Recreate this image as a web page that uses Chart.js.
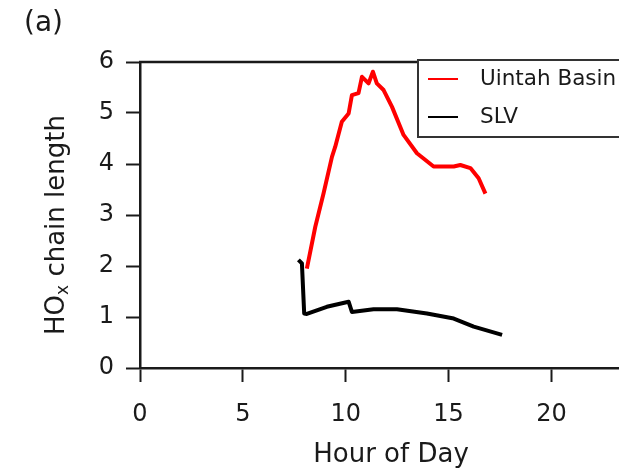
<!DOCTYPE html>
<html>
<head>
<meta charset="utf-8">
<script src="https://cdn.jsdelivr.net/npm/chart.js@4.4.1/dist/chart.umd.min.js"></script>
<style>
  html, body { margin: 0; padding: 0; background: #fff; overflow: hidden; }
  #wrap { width: 619px; height: 471px; position: relative; overflow: hidden; }
</style>
</head>
<body>
<div id="wrap"><canvas id="chart" width="642" height="471"></canvas></div>
<script>
// values (hour of day, HOx chain length)
const uintahHours = [8.11, 8.52, 8.92, 9.33, 9.49, 9.81, 10.14, 10.30, 10.62, 10.79, 11.11, 11.32, 11.51, 11.84, 12.25, 12.81, 13.46, 14.27, 15.25, 15.57, 16.06, 16.46, 16.79];
const uintahChain = [1.95, 2.77, 3.42, 4.14, 4.34, 4.83, 4.99, 5.35, 5.39, 5.71, 5.58, 5.81, 5.58, 5.45, 5.12, 4.57, 4.21, 3.95, 3.95, 3.98, 3.92, 3.72, 3.42];
const slvHours = [7.70, 7.87, 7.98, 8.11, 9.08, 10.14, 10.30, 11.35, 12.49, 13.95, 15.25, 16.22, 17.60];
const slvChain = [2.12, 2.05, 1.07, 1.06, 1.20, 1.30, 1.10, 1.15, 1.15, 1.07, 0.97, 0.81, 0.65];
const xTicks = [0, 5, 10, 15, 20];
const yTicks = [0, 1, 2, 3, 4, 5, 6];

const FONT = "'DejaVu Sans', Verdana, sans-serif";
const INK = '#1a1a1a';

function toPoints(xs, ys) {
  return xs.map((x, i) => ({ x: x, y: ys[i] }));
}

// top spine, panel label, y title with subscript and the boxed legend
const decor = {
  id: 'decor',
  afterDraw(chart) {
    const c = chart.ctx;
    const a = chart.chartArea;
    c.save();
    c.strokeStyle = INK;
    c.lineWidth = 2.5;
    c.beginPath();
    c.moveTo(a.left - 1, a.top);
    c.lineTo(a.right, a.top);
    c.stroke();

    c.fillStyle = INK;
    c.font = '28px ' + FONT;
    c.textBaseline = 'middle';
    c.textAlign = 'left';
    c.fillText('(a)', 24, 24);

    // y axis title: HO + subscript x + rest
    c.save();
    c.translate(54, 225);
    c.rotate(-Math.PI / 2);
    c.textBaseline = 'alphabetic';
    const big = '26px ' + FONT, small = '17px ' + FONT;
    c.font = big;
    const w1 = c.measureText('HO').width;
    const w3 = c.measureText(' chain length').width;
    c.font = small;
    const w2 = c.measureText('x').width;
    let x0 = -(w1 + w2 + w3) / 2;
    c.font = big;
    c.fillText('HO', x0, 10);
    c.font = small;
    c.fillText('x', x0 + w1, 14);
    c.font = big;
    c.fillText(' chain length', x0 + w1 + w2, 10);
    c.restore();

    // legend
    const bx = 418, by = 60, bw = 214, bh = 77;
    c.fillStyle = '#fff';
    c.fillRect(bx, by, bw, bh);
    c.strokeStyle = '#333';
    c.lineWidth = 2;
    c.strokeRect(bx, by, bw, bh);
    c.font = '21.5px ' + FONT;
    chart.data.datasets.forEach((ds, i) => {
      const y = by + 19 + i * 38;
      c.strokeStyle = ds.borderColor;
      c.lineWidth = 2;
      c.beginPath();
      c.moveTo(bx + 10, y);
      c.lineTo(bx + 40, y);
      c.stroke();
      c.fillStyle = INK;
      c.fillText(ds.label, bx + 62, y);
    });
    c.restore();
  }
};

new Chart(document.getElementById('chart'), {
  type: 'scatter',
  data: {
    datasets: [
      {
        label: 'Uintah Basin',
        data: toPoints(uintahHours, uintahChain),
        borderColor: '#ff0000',
        borderWidth: 4,
        borderJoinStyle: 'round',
        showLine: true,
        pointRadius: 0,
        tension: 0
      },
      {
        label: 'SLV',
        data: toPoints(slvHours, slvChain),
        borderColor: '#000000',
        borderWidth: 4,
        borderJoinStyle: 'round',
        showLine: true,
        pointRadius: 0,
        tension: 0
      }
    ]
  },
  options: {
    responsive: false,
    animation: false,
    layout: { padding: { top: 62, right: 0, left: 0, bottom: 0 } },
    plugins: {
      legend: { display: false },
      tooltip: { enabled: false }
    },
    scales: {
      x: {
        type: 'linear',
        min: 0,
        max: 24.4,
        afterFit: s => { s.height = 103; },
        afterBuildTicks: s => { s.ticks = xTicks.map(v => ({ value: v })); },
        ticks: { color: INK, font: { family: FONT, size: 24 }, padding: 18 },
        grid: { drawOnChartArea: false, tickLength: 14, tickWidth: 2, tickColor: INK },
        border: { color: INK, width: 2.5 },
        title: { display: true, text: 'Hour of Day', color: INK, font: { family: FONT, size: 26 }, padding: { top: 0, bottom: 0 } }
      },
      y: {
        type: 'linear',
        min: 0,
        max: 6,
        afterFit: s => { s.width = 140; },
        afterBuildTicks: s => { s.ticks = yTicks.map(v => ({ value: v })); },
        ticks: { color: INK, font: { family: FONT, size: 24 }, padding: 12 },
        grid: { drawOnChartArea: false, tickLength: 14, tickWidth: 2, tickColor: INK },
        border: { color: INK, width: 2.5 },
        title: { display: false }
      }
    }
  },
  plugins: [decor]
});
</script>
</body>
</html>
